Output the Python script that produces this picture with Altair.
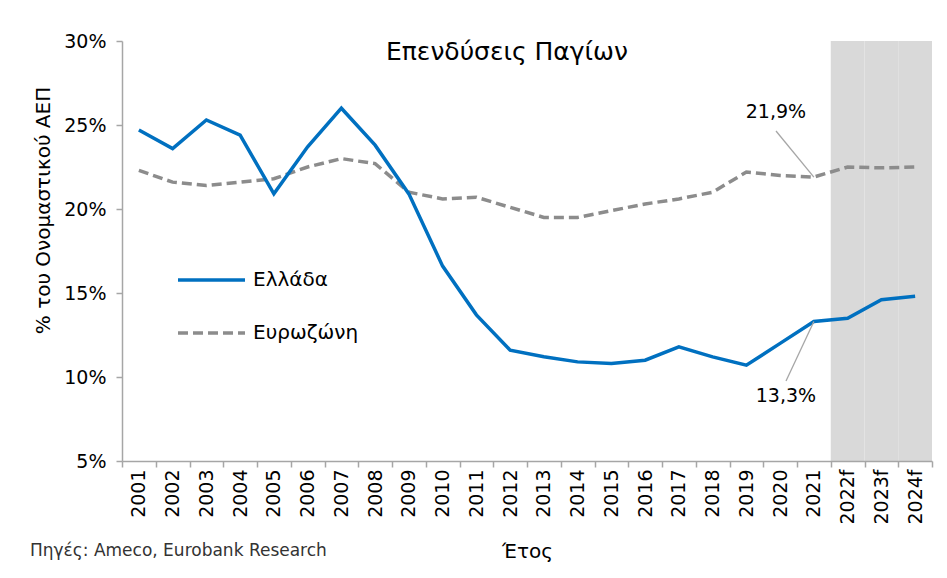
import altair as alt
import pandas as pd

years = ["2001", "2002", "2003", "2004", "2005", "2006", "2007", "2008", "2009", "2010",
         "2011", "2012", "2013", "2014", "2015", "2016", "2017", "2018", "2019", "2020",
         "2021", "2022f", "2023f", "2024f"]
greece = [24.7, 23.6, 25.3, 24.4, 20.9, 23.7, 26.0, 23.8, 20.9, 16.6,
          13.7, 11.6, 11.2, 10.9, 10.8, 11.0, 11.8, 11.2, 10.7, 12.0,
          13.3, 13.5, 14.6, 14.8]
eurozone = [22.3, 21.6, 21.4, 21.6, 21.8, 22.5, 23.0, 22.7, 21.0, 20.6,
            20.7, 20.1, 19.5, 19.5, 19.9, 20.3, 20.6, 21.0, 22.2, 22.0,
            21.9, 22.5, 22.45, 22.5]
series_names = ["Ελλάδα", "Ευρωζώνη"]
forecast_years = ["2022f", "2023f", "2024f"]
y_ticks = [5, 10, 15, 20, 25, 30]

title_text = "Επενδύσεις Παγίων"
y_title = "% του Ονομαστικού ΑΕΠ"
x_title = "Έτος"
source_text = "Πηγές: Ameco, Eurobank Research"

FONT = "DejaVu Sans"
BLUE = "#0070c0"
GREY = "#8c8c8c"
AXIS = "#a6a6a6"
W, H = 810, 420

df = pd.DataFrame({
    "year": years * 2,
    "value": greece + eurozone,
    "series": [series_names[0]] * len(years) + [series_names[1]] * len(years),
})
fc = pd.DataFrame({"year": forecast_years})

xscale = alt.Scale(domain=years, paddingInner=0, paddingOuter=0)
yscale = alt.Scale(domain=[5, 30], nice=False, zero=False)

x_enc = alt.X("year:N", scale=xscale, sort=years,
              axis=alt.Axis(title=x_title, labelAngle=270, tickBand="extent",
                            labelFontSize=19, labelPadding=2, titleFontSize=20,
                            titleFontWeight="normal", titleY=90, titleBaseline="middle"))
y_enc = alt.Y("value:Q", scale=yscale,
              axis=alt.Axis(title=y_title, values=y_ticks, labelExpr="datum.value + '%'",
                            labelFontSize=19, labelPadding=10, titleFontSize=20,
                            titleFontWeight="normal", titleAngle=270, titleX=-79,
                            titleY=169, titleAlign="center", titleBaseline="middle"))

shade = alt.Chart(fc).mark_rect(color="#d9d9d9").encode(
    x=alt.X("year:N", scale=xscale, sort=years),
    y=alt.value(0), y2=alt.value(H))

gr_line = alt.Chart(df).transform_filter(alt.datum.series == series_names[0]).mark_line(
    color=BLUE, strokeWidth=3.5).encode(x=x_enc, y=y_enc)
ez_line = alt.Chart(df).transform_filter(alt.datum.series == series_names[1]).mark_line(
    color=GREY, strokeWidth=3.5, strokeDash=[10, 5]).encode(x=x_enc, y=y_enc)

title = alt.Chart(pd.DataFrame({"t": [title_text]})).mark_text(
    font=FONT, fontSize=25, color="black", align="center", baseline="middle").encode(
    x=alt.value(385), y=alt.value(11), text="t:N")

leg1_line = alt.Chart(pd.DataFrame({"a": [0]})).mark_rule(color=BLUE, strokeWidth=3.5).encode(
    x=alt.value(56), x2=alt.value(123), y=alt.value(239))
leg2_line = alt.Chart(pd.DataFrame({"a": [0]})).mark_rule(
    color=GREY, strokeWidth=3.5, strokeDash=[10, 5]).encode(
    x=alt.value(56), x2=alt.value(123), y=alt.value(292))
leg1_text = alt.Chart(pd.DataFrame({"t": [series_names[0]]})).mark_text(
    font=FONT, fontSize=20, align="left", baseline="middle", color="black").encode(
    x=alt.value(131), y=alt.value(239), text="t:N")
leg2_text = alt.Chart(pd.DataFrame({"t": [series_names[1]]})).mark_text(
    font=FONT, fontSize=20, align="left", baseline="middle", color="black").encode(
    x=alt.value(131), y=alt.value(292), text="t:N")

i21 = years.index("2021")
ann = pd.DataFrame({
    "year": ["2021", "2021"],
    "value": [eurozone[i21], greece[i21]],
    "label": [f"{eurozone[i21]}".replace(".", ",") + "%", f"{greece[i21]}".replace(".", ",") + "%"],
})
ez_ann = alt.Chart(ann.iloc[[0]]).encode(x=alt.X("year:N", scale=xscale, sort=years),
                                         y=alt.Y("value:Q", scale=yscale))
gr_ann = alt.Chart(ann.iloc[[1]]).encode(x=alt.X("year:N", scale=xscale, sort=years),
                                         y=alt.Y("value:Q", scale=yscale))
ez_lead = ez_ann.mark_rule(color=AXIS, strokeWidth=1.3).encode(x2=alt.value(654), y2=alt.value(90))
gr_lead = gr_ann.mark_rule(color=AXIS, strokeWidth=1.3).encode(x2=alt.value(664), y2=alt.value(340))
ez_lab = ez_ann.mark_text(font=FONT, fontSize=19, color="black", dx=-38, dy=-65,
                          baseline="middle").encode(text="label:N")
gr_lab = gr_ann.mark_text(font=FONT, fontSize=19, color="black", dx=-28, dy=74,
                          baseline="middle").encode(text="label:N")

source = alt.Chart(pd.DataFrame({"t": [source_text]})).mark_text(
    font=FONT, fontSize=17, align="left", baseline="middle", color="#333333").encode(
    x=alt.value(-92), y=alt.value(510), text="t:N")

chart = alt.layer(
    shade, ez_line, gr_line, ez_lead, gr_lead, ez_lab, gr_lab,
    title, leg1_line, leg2_line, leg1_text, leg2_text, source
).properties(
    width=W, height=H,
    padding={"left": 114, "top": 33, "right": 7, "bottom": 109},
    autosize=alt.AutoSizeParams(type="none"),
    background="white",
).configure_view(stroke=None).configure_axis(
    labelFont=FONT, titleFont=FONT, labelColor="black", titleColor="black",
    domainColor=AXIS, tickColor=AXIS, domainWidth=1.5, tickWidth=1.5, tickSize=6, grid=False,
)

chart.save("out.html", embed_options={"renderer": "svg", "actions": False})
